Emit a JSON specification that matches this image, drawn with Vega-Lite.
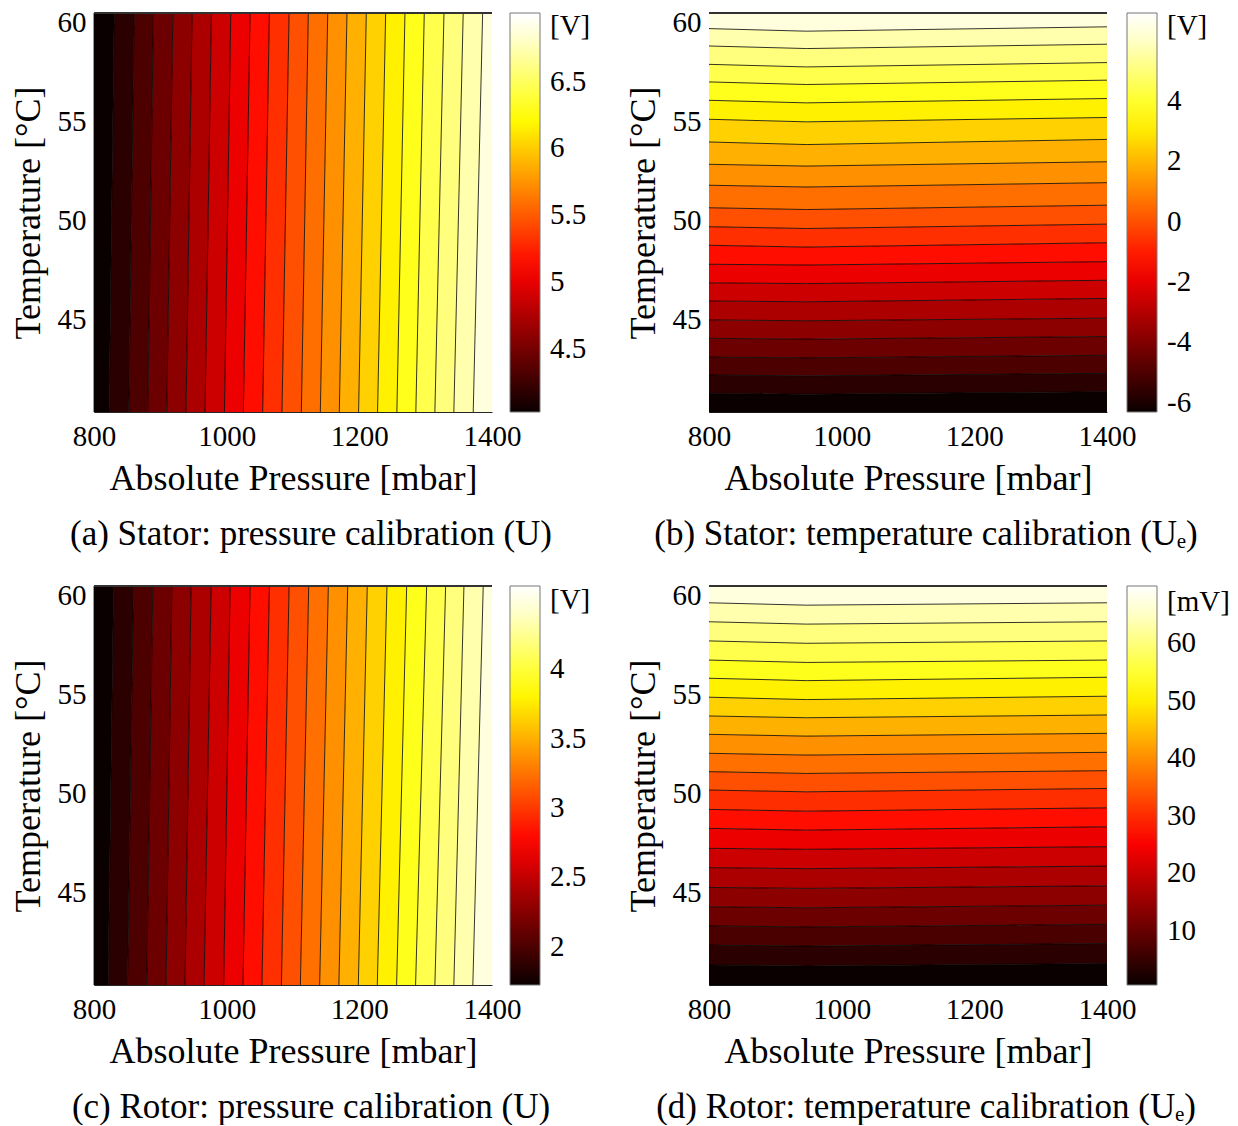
{
  "$schema": "https://vega.github.io/schema/vega-lite/v6.json",
  "padding": {"left": 10, "top": 8, "right": 0, "bottom": 0},
  "background": "white",
  "columns": 2,
  "spacing": {"row": 29, "column": 34},
  "resolve": {
    "scale": {"x": "independent", "y": "independent", "color": "independent"},
    "axis": {"x": "independent", "y": "independent"},
    "legend": {"color": "independent"}
  },
  "datasets": {
    "A": [
      {"k":0,"t":40.3,"p0":800,"p1":822.7,"v":4.026},{"k":0,"t":60.5,"p0":800,"p1":830.4,"v":4.026},
      {"k":1,"t":40.3,"p0":822.7,"p1":852.4,"v":4.168},{"k":1,"t":60.5,"p0":830.4,"p1":860.6,"v":4.168},
      {"k":2,"t":40.3,"p0":852.4,"p1":881.0,"v":4.311},{"k":2,"t":60.5,"p0":860.6,"p1":889.6,"v":4.311},
      {"k":3,"t":40.3,"p0":881.0,"p1":909.7,"v":4.453},{"k":3,"t":60.5,"p0":889.6,"p1":918.9,"v":4.453},
      {"k":4,"t":40.3,"p0":909.7,"p1":938.7,"v":4.595},{"k":4,"t":60.5,"p0":918.9,"p1":947.9,"v":4.595},
      {"k":5,"t":40.3,"p0":938.7,"p1":967.4,"v":4.738},{"k":5,"t":60.5,"p0":947.9,"p1":977.0,"v":4.738},
      {"k":6,"t":40.3,"p0":967.4,"p1":996.6,"v":4.880},{"k":6,"t":60.5,"p0":977.0,"p1":1006.2,"v":4.880},
      {"k":7,"t":40.3,"p0":996.6,"p1":1025.2,"v":5.022},{"k":7,"t":60.5,"p0":1006.2,"p1":1035.3,"v":5.022},
      {"k":8,"t":40.3,"p0":1025.2,"p1":1054.3,"v":5.165},{"k":8,"t":60.5,"p0":1035.3,"p1":1064.4,"v":5.165},
      {"k":9,"t":40.3,"p0":1054.3,"p1":1083.4,"v":5.307},{"k":9,"t":60.5,"p0":1064.4,"p1":1094.1,"v":5.307},
      {"k":10,"t":40.3,"p0":1083.4,"p1":1112.6,"v":5.449},{"k":10,"t":60.5,"p0":1094.1,"p1":1123.1,"v":5.449},
      {"k":11,"t":40.3,"p0":1112.6,"p1":1141.2,"v":5.592},{"k":11,"t":60.5,"p0":1123.1,"p1":1152.4,"v":5.592},
      {"k":12,"t":40.3,"p0":1141.2,"p1":1169.8,"v":5.734},{"k":12,"t":60.5,"p0":1152.4,"p1":1181.4,"v":5.734},
      {"k":13,"t":40.3,"p0":1169.8,"p1":1198.9,"v":5.876},{"k":13,"t":60.5,"p0":1181.4,"p1":1210.5,"v":5.876},
      {"k":14,"t":40.3,"p0":1198.9,"p1":1227.5,"v":6.019},{"k":14,"t":60.5,"p0":1210.5,"p1":1239.7,"v":6.019},
      {"k":15,"t":40.3,"p0":1227.5,"p1":1256.6,"v":6.161},{"k":15,"t":60.5,"p0":1239.7,"p1":1268.8,"v":6.161},
      {"k":16,"t":40.3,"p0":1256.6,"p1":1285.2,"v":6.303},{"k":16,"t":60.5,"p0":1268.8,"p1":1297.9,"v":6.303},
      {"k":17,"t":40.3,"p0":1285.2,"p1":1313.9,"v":6.446},{"k":17,"t":60.5,"p0":1297.9,"p1":1327.6,"v":6.446},
      {"k":18,"t":40.3,"p0":1313.9,"p1":1342.5,"v":6.588},{"k":18,"t":60.5,"p0":1327.6,"p1":1356.6,"v":6.588},
      {"k":19,"t":40.3,"p0":1342.5,"p1":1371.7,"v":6.730},{"k":19,"t":60.5,"p0":1356.6,"p1":1385.9,"v":6.730},
      {"k":20,"t":40.3,"p0":1371.7,"p1":1400,"v":6.873},{"k":20,"t":60.5,"p0":1385.9,"p1":1400,"v":6.873}
    ],
    "C": [
      {"k":0,"t":40.3,"p0":800,"p1":821.2,"v":1.724},{"k":0,"t":60.5,"p0":800,"p1":829.4,"v":1.724},
      {"k":1,"t":40.3,"p0":821.2,"p1":850.5,"v":1.861},{"k":1,"t":60.5,"p0":829.4,"p1":859.5,"v":1.861},
      {"k":2,"t":40.3,"p0":850.5,"p1":879.5,"v":1.998},{"k":2,"t":60.5,"p0":859.5,"p1":888.7,"v":1.998},
      {"k":3,"t":40.3,"p0":879.5,"p1":908.6,"v":2.135},{"k":3,"t":60.5,"p0":888.7,"p1":917.4,"v":2.135},
      {"k":4,"t":40.3,"p0":908.6,"p1":937.2,"v":2.272},{"k":4,"t":60.5,"p0":917.4,"p1":946.4,"v":2.272},
      {"k":5,"t":40.3,"p0":937.2,"p1":965.9,"v":2.409},{"k":5,"t":60.5,"p0":946.4,"p1":976.6,"v":2.409},
      {"k":6,"t":40.3,"p0":965.9,"p1":995.5,"v":2.546},{"k":6,"t":60.5,"p0":976.6,"p1":1005.2,"v":2.546},
      {"k":7,"t":40.3,"p0":995.5,"p1":1024.6,"v":2.683},{"k":7,"t":60.5,"p0":1005.2,"p1":1035.3,"v":2.683},
      {"k":8,"t":40.3,"p0":1024.6,"p1":1053.2,"v":2.820},{"k":8,"t":60.5,"p0":1035.3,"p1":1064.4,"v":2.820},
      {"k":9,"t":40.3,"p0":1053.2,"p1":1082.5,"v":2.957},{"k":9,"t":60.5,"p0":1064.4,"p1":1094.1,"v":2.957},
      {"k":10,"t":40.3,"p0":1082.5,"p1":1111.1,"v":3.094},{"k":10,"t":60.5,"p0":1094.1,"p1":1123.7,"v":3.094},
      {"k":11,"t":40.3,"p0":1111.1,"p1":1140.2,"v":3.231},{"k":11,"t":60.5,"p0":1123.7,"p1":1153.3,"v":3.231},
      {"k":12,"t":40.3,"p0":1140.2,"p1":1169.2,"v":3.368},{"k":12,"t":60.5,"p0":1153.3,"p1":1182.5,"v":3.368},
      {"k":13,"t":40.3,"p0":1169.2,"p1":1198.5,"v":3.505},{"k":13,"t":60.5,"p0":1182.5,"p1":1212.0,"v":3.505},
      {"k":14,"t":40.3,"p0":1198.5,"p1":1227.1,"v":3.642},{"k":14,"t":60.5,"p0":1212.0,"p1":1241.7,"v":3.642},
      {"k":15,"t":40.3,"p0":1227.1,"p1":1256.2,"v":3.779},{"k":15,"t":60.5,"p0":1241.7,"p1":1271.4,"v":3.779},
      {"k":16,"t":40.3,"p0":1256.2,"p1":1284.8,"v":3.916},{"k":16,"t":60.5,"p0":1271.4,"p1":1301.5,"v":3.916},
      {"k":17,"t":40.3,"p0":1284.8,"p1":1313.9,"v":4.053},{"k":17,"t":60.5,"p0":1301.5,"p1":1330.1,"v":4.053},
      {"k":18,"t":40.3,"p0":1313.9,"p1":1342.5,"v":4.190},{"k":18,"t":60.5,"p0":1330.1,"p1":1357.7,"v":4.190},
      {"k":19,"t":40.3,"p0":1342.5,"p1":1371.1,"v":4.327},{"k":19,"t":60.5,"p0":1357.7,"p1":1386.8,"v":4.327},
      {"k":20,"t":40.3,"p0":1371.1,"p1":1400,"v":4.464},{"k":20,"t":60.5,"p0":1386.8,"p1":1400,"v":4.464}
    ],
    "B": [
      {"k":0,"p":800,"t0":40.3,"t1":41.24,"v":-6.31},{"k":0,"p":947,"t0":40.3,"t1":41.20,"v":-6.31},{"k":0,"p":1400,"t0":40.3,"t1":41.33,"v":-6.31},
      {"k":1,"p":800,"t0":41.24,"t1":42.17,"v":-5.68},{"k":1,"p":947,"t0":41.20,"t1":42.13,"v":-5.68},{"k":1,"p":1400,"t0":41.33,"t1":42.26,"v":-5.68},
      {"k":2,"p":800,"t0":42.17,"t1":43.08,"v":-5.05},{"k":2,"p":947,"t0":42.13,"t1":43.04,"v":-5.05},{"k":2,"p":1400,"t0":42.26,"t1":43.17,"v":-5.05},
      {"k":3,"p":800,"t0":43.08,"t1":44.03,"v":-4.42},{"k":3,"p":947,"t0":43.04,"t1":43.99,"v":-4.42},{"k":3,"p":1400,"t0":43.17,"t1":44.12,"v":-4.42},
      {"k":4,"p":800,"t0":44.03,"t1":44.96,"v":-3.79},{"k":4,"p":947,"t0":43.99,"t1":44.92,"v":-3.79},{"k":4,"p":1400,"t0":44.12,"t1":45.05,"v":-3.79},
      {"k":5,"p":800,"t0":44.96,"t1":45.92,"v":-3.16},{"k":5,"p":947,"t0":44.92,"t1":45.88,"v":-3.16},{"k":5,"p":1400,"t0":45.05,"t1":46.05,"v":-3.16},
      {"k":6,"p":800,"t0":45.92,"t1":46.84,"v":-2.53},{"k":6,"p":947,"t0":45.88,"t1":46.80,"v":-2.53},{"k":6,"p":1400,"t0":46.05,"t1":46.97,"v":-2.53},
      {"k":7,"p":800,"t0":46.84,"t1":47.78,"v":-1.90},{"k":7,"p":947,"t0":46.80,"t1":47.74,"v":-1.90},{"k":7,"p":1400,"t0":46.97,"t1":47.91,"v":-1.90},
      {"k":8,"p":800,"t0":47.78,"t1":48.74,"v":-1.27},{"k":8,"p":947,"t0":47.74,"t1":48.65,"v":-1.27},{"k":8,"p":1400,"t0":47.91,"t1":48.87,"v":-1.27},
      {"k":9,"p":800,"t0":48.74,"t1":49.68,"v":-0.64},{"k":9,"p":947,"t0":48.65,"t1":49.59,"v":-0.64},{"k":9,"p":1400,"t0":48.87,"t1":49.81,"v":-0.64},
      {"k":10,"p":800,"t0":49.68,"t1":50.64,"v":-0.01},{"k":10,"p":947,"t0":49.59,"t1":50.55,"v":-0.01},{"k":10,"p":1400,"t0":49.81,"t1":50.77,"v":-0.01},
      {"k":11,"p":800,"t0":50.64,"t1":51.78,"v":0.62},{"k":11,"p":947,"t0":50.55,"t1":51.69,"v":0.62},{"k":11,"p":1400,"t0":50.77,"t1":51.91,"v":0.62},
      {"k":12,"p":800,"t0":51.78,"t1":52.84,"v":1.25},{"k":12,"p":947,"t0":51.69,"t1":52.75,"v":1.25},{"k":12,"p":1400,"t0":51.91,"t1":52.97,"v":1.25},
      {"k":13,"p":800,"t0":52.84,"t1":53.97,"v":1.88},{"k":13,"p":947,"t0":52.75,"t1":53.84,"v":1.88},{"k":13,"p":1400,"t0":52.97,"t1":54.10,"v":1.88},
      {"k":14,"p":800,"t0":53.97,"t1":55.12,"v":2.51},{"k":14,"p":947,"t0":53.84,"t1":54.99,"v":2.51},{"k":14,"p":1400,"t0":54.10,"t1":55.21,"v":2.51},
      {"k":15,"p":800,"t0":55.12,"t1":56.08,"v":3.14},{"k":15,"p":947,"t0":54.99,"t1":55.95,"v":3.14},{"k":15,"p":1400,"t0":55.21,"t1":56.17,"v":3.14},
      {"k":16,"p":800,"t0":56.08,"t1":57.01,"v":3.77},{"k":16,"p":947,"t0":55.95,"t1":56.88,"v":3.77},{"k":16,"p":1400,"t0":56.17,"t1":57.10,"v":3.77},
      {"k":17,"p":800,"t0":57.01,"t1":57.90,"v":4.40},{"k":17,"p":947,"t0":56.88,"t1":57.77,"v":4.40},{"k":17,"p":1400,"t0":57.10,"t1":57.99,"v":4.40},
      {"k":18,"p":800,"t0":57.90,"t1":58.83,"v":5.03},{"k":18,"p":947,"t0":57.77,"t1":58.70,"v":5.03},{"k":18,"p":1400,"t0":57.99,"t1":58.92,"v":5.03},
      {"k":19,"p":800,"t0":58.83,"t1":59.71,"v":5.66},{"k":19,"p":947,"t0":58.70,"t1":59.58,"v":5.66},{"k":19,"p":1400,"t0":58.92,"t1":59.80,"v":5.66},
      {"k":20,"p":800,"t0":59.71,"t1":60.5,"v":6.29},{"k":20,"p":947,"t0":59.58,"t1":60.5,"v":6.29},{"k":20,"p":1400,"t0":59.80,"t1":60.5,"v":6.29}
    ],
    "D": [
      {"k":0,"p":800,"t0":40.3,"t1":41.31,"v":0.6},{"k":0,"p":947,"t0":40.3,"t1":41.26,"v":0.6},{"k":0,"p":1400,"t0":40.3,"t1":41.39,"v":0.6},
      {"k":1,"p":800,"t0":41.31,"t1":42.32,"v":3.9},{"k":1,"p":947,"t0":41.26,"t1":42.27,"v":3.9},{"k":1,"p":1400,"t0":41.39,"t1":42.40,"v":3.9},
      {"k":2,"p":800,"t0":42.32,"t1":43.29,"v":7.2},{"k":2,"p":947,"t0":42.27,"t1":43.24,"v":7.2},{"k":2,"p":1400,"t0":42.40,"t1":43.37,"v":7.2},
      {"k":3,"p":800,"t0":43.29,"t1":44.26,"v":10.5},{"k":3,"p":947,"t0":43.24,"t1":44.21,"v":10.5},{"k":3,"p":1400,"t0":43.37,"t1":44.34,"v":10.5},
      {"k":4,"p":800,"t0":44.26,"t1":45.24,"v":13.8},{"k":4,"p":947,"t0":44.21,"t1":45.19,"v":13.8},{"k":4,"p":1400,"t0":44.34,"t1":45.32,"v":13.8},
      {"k":5,"p":800,"t0":45.24,"t1":46.24,"v":17.1},{"k":5,"p":947,"t0":45.19,"t1":46.19,"v":17.1},{"k":5,"p":1400,"t0":45.32,"t1":46.32,"v":17.1},
      {"k":6,"p":800,"t0":46.24,"t1":47.22,"v":20.4},{"k":6,"p":947,"t0":46.19,"t1":47.17,"v":20.4},{"k":6,"p":1400,"t0":46.32,"t1":47.30,"v":20.4},
      {"k":7,"p":800,"t0":47.22,"t1":48.23,"v":23.7},{"k":7,"p":947,"t0":47.17,"t1":48.14,"v":23.7},{"k":7,"p":1400,"t0":47.30,"t1":48.31,"v":23.7},
      {"k":8,"p":800,"t0":48.23,"t1":49.19,"v":27.0},{"k":8,"p":947,"t0":48.14,"t1":49.10,"v":27.0},{"k":8,"p":1400,"t0":48.31,"t1":49.27,"v":27.0},
      {"k":9,"p":800,"t0":49.19,"t1":50.17,"v":30.3},{"k":9,"p":947,"t0":49.10,"t1":50.08,"v":30.3},{"k":9,"p":1400,"t0":49.27,"t1":50.25,"v":30.3},
      {"k":10,"p":800,"t0":50.17,"t1":51.10,"v":33.6},{"k":10,"p":947,"t0":50.08,"t1":51.01,"v":33.6},{"k":10,"p":1400,"t0":50.25,"t1":51.15,"v":33.6},
      {"k":11,"p":800,"t0":51.10,"t1":52.03,"v":37.0},{"k":11,"p":947,"t0":51.01,"t1":51.94,"v":37.0},{"k":11,"p":1400,"t0":51.15,"t1":52.08,"v":37.0},
      {"k":12,"p":800,"t0":52.03,"t1":52.99,"v":40.3},{"k":12,"p":947,"t0":51.94,"t1":52.90,"v":40.3},{"k":12,"p":1400,"t0":52.08,"t1":53.04,"v":40.3},
      {"k":13,"p":800,"t0":52.99,"t1":53.92,"v":43.6},{"k":13,"p":947,"t0":52.90,"t1":53.83,"v":43.6},{"k":13,"p":1400,"t0":53.04,"t1":53.97,"v":43.6},
      {"k":14,"p":800,"t0":53.92,"t1":54.87,"v":46.9},{"k":14,"p":947,"t0":53.83,"t1":54.75,"v":46.9},{"k":14,"p":1400,"t0":53.97,"t1":54.92,"v":46.9},
      {"k":15,"p":800,"t0":54.87,"t1":55.83,"v":50.2},{"k":15,"p":947,"t0":54.75,"t1":55.71,"v":50.2},{"k":15,"p":1400,"t0":54.92,"t1":55.88,"v":50.2},
      {"k":16,"p":800,"t0":55.83,"t1":56.75,"v":53.5},{"k":16,"p":947,"t0":55.71,"t1":56.63,"v":53.5},{"k":16,"p":1400,"t0":55.88,"t1":56.75,"v":53.5},
      {"k":17,"p":800,"t0":56.75,"t1":57.72,"v":56.8},{"k":17,"p":947,"t0":56.63,"t1":57.60,"v":56.8},{"k":17,"p":1400,"t0":56.75,"t1":57.72,"v":56.8},
      {"k":18,"p":800,"t0":57.72,"t1":58.69,"v":60.1},{"k":18,"p":947,"t0":57.60,"t1":58.57,"v":60.1},{"k":18,"p":1400,"t0":57.72,"t1":58.69,"v":60.1},
      {"k":19,"p":800,"t0":58.69,"t1":59.65,"v":63.4},{"k":19,"p":947,"t0":58.57,"t1":59.53,"v":63.4},{"k":19,"p":1400,"t0":58.69,"t1":59.65,"v":63.4},
      {"k":20,"p":800,"t0":59.65,"t1":60.5,"v":66.7},{"k":20,"p":947,"t0":59.53,"t1":60.5,"v":66.7},{"k":20,"p":1400,"t0":59.65,"t1":60.5,"v":66.7}
    ]
  },
  "concat": [
    {
      "width": 398, "height": 399,
      "title": {"text": "(a) Stator: pressure calibration (U)"},
      "data": {"name": "A"},
      "layer": [
        {
          "mark": {"type": "area", "orient": "horizontal"},
          "encoding": {
            "y": {"field": "t", "type": "quantitative", "title": "Temperature [°C]", "scale": {"domain": [40.3, 60.5], "nice": false, "zero": false}, "axis": {"values": [45, 50, 55, 60]}},
            "x": {"field": "p0", "type": "quantitative", "title": "Absolute Pressure [mbar]", "scale": {"domain": [800, 1400], "nice": false, "zero": false}, "axis": {"values": [800, 1000, 1200, 1400], "format": "d"}},
            "x2": {"field": "p1"},
            "detail": {"field": "k", "type": "nominal"},
            "color": {"field": "v", "type": "quantitative",
              "scale": {"domain": [4.026, 5.102, 6.223, 6.970, 7.015], "range": ["#0b0000", "#ff0000", "#ffff00", "#ffffff", "#ffffff"], "nice": false, "zero": false, "interpolate": "rgb"},
              "legend": {"values": [4.5, 5, 5.5, 6, 6.5, 6.92], "labelExpr": "datum.value > 6.8 ? '[V]' : '' + datum.value"}}
          }
        },
        {
          "mark": {"type": "line", "color": "#000000", "strokeWidth": 0.8},
          "encoding": {
            "x": {"field": "p0", "type": "quantitative", "title": "Absolute Pressure [mbar]"},
            "y": {"field": "t", "type": "quantitative", "title": "Temperature [°C]"},
            "detail": {"field": "k", "type": "nominal"},
            "order": {"field": "t", "type": "quantitative"}
          }
        },
        {
          "mark": {"type": "rule", "color": "#333333", "strokeWidth": 1},
          "encoding": {"y": {"datum": 60.5, "type": "quantitative", "title": "Temperature [°C]"}}
        }
      ]
    },
    {
      "width": 398, "height": 399,
      "title": {"text": "(b) Stator: temperature calibration (Uₑ)"},
      "data": {"name": "B"},
      "layer": [
        {
          "mark": {"type": "area"},
          "encoding": {
            "x": {"field": "p", "type": "quantitative", "title": "Absolute Pressure [mbar]", "scale": {"domain": [800, 1400], "nice": false, "zero": false}, "axis": {"values": [800, 1000, 1200, 1400], "format": "d"}},
            "y": {"field": "t0", "type": "quantitative", "title": "Temperature [°C]", "scale": {"domain": [40.3, 60.5], "nice": false, "zero": false}, "axis": {"values": [45, 50, 55, 60]}},
            "y2": {"field": "t1"},
            "detail": {"field": "k", "type": "nominal"},
            "color": {"field": "v", "type": "quantitative",
              "scale": {"domain": [-6.31, -1.547, 3.414, 6.722, 6.92], "range": ["#0b0000", "#ff0000", "#ffff00", "#ffffff", "#ffffff"], "nice": false, "zero": false, "interpolate": "rgb"},
              "legend": {"values": [-6, -4, -2, 0, 2, 4, 6.5], "labelExpr": "datum.value > 6 ? '[V]' : '' + datum.value"}}
          }
        },
        {
          "mark": {"type": "line", "color": "#000000", "strokeWidth": 0.8},
          "encoding": {
            "x": {"field": "p", "type": "quantitative", "title": "Absolute Pressure [mbar]"},
            "y": {"field": "t0", "type": "quantitative", "title": "Temperature [°C]"},
            "detail": {"field": "k", "type": "nominal"}
          }
        },
        {
          "mark": {"type": "rule", "color": "#333333", "strokeWidth": 1},
          "encoding": {"y": {"datum": 60.5, "type": "quantitative", "title": "Temperature [°C]"}}
        }
      ]
    },
    {
      "width": 398, "height": 399,
      "title": {"text": "(c) Rotor: pressure calibration (U)"},
      "data": {"name": "C"},
      "layer": [
        {
          "mark": {"type": "area", "orient": "horizontal"},
          "encoding": {
            "y": {"field": "t", "type": "quantitative", "title": "Temperature [°C]", "scale": {"domain": [40.3, 60.5], "nice": false, "zero": false}, "axis": {"values": [45, 50, 55, 60]}},
            "x": {"field": "p0", "type": "quantitative", "title": "Absolute Pressure [mbar]", "scale": {"domain": [800, 1400], "nice": false, "zero": false}, "axis": {"values": [800, 1000, 1200, 1400], "format": "d"}},
            "x2": {"field": "p1"},
            "detail": {"field": "k", "type": "nominal"},
            "color": {"field": "v", "type": "quantitative",
              "scale": {"domain": [1.724, 2.759, 3.838, 4.557, 4.60], "range": ["#0b0000", "#ff0000", "#ffff00", "#ffffff", "#ffffff"], "nice": false, "zero": false, "interpolate": "rgb"},
              "legend": {"values": [2, 2.5, 3, 3.5, 4, 4.5], "labelExpr": "datum.value > 4.4 ? '[V]' : '' + datum.value"}}
          }
        },
        {
          "mark": {"type": "line", "color": "#000000", "strokeWidth": 0.8},
          "encoding": {
            "x": {"field": "p0", "type": "quantitative", "title": "Absolute Pressure [mbar]"},
            "y": {"field": "t", "type": "quantitative", "title": "Temperature [°C]"},
            "detail": {"field": "k", "type": "nominal"},
            "order": {"field": "t", "type": "quantitative"}
          }
        },
        {
          "mark": {"type": "rule", "color": "#333333", "strokeWidth": 1},
          "encoding": {"y": {"datum": 60.5, "type": "quantitative", "title": "Temperature [°C]"}}
        }
      ]
    },
    {
      "width": 398, "height": 399,
      "title": {"text": "(d) Rotor: temperature calibration (Uₑ)"},
      "data": {"name": "D"},
      "layer": [
        {
          "mark": {"type": "area"},
          "encoding": {
            "x": {"field": "p", "type": "quantitative", "title": "Absolute Pressure [mbar]", "scale": {"domain": [800, 1400], "nice": false, "zero": false}, "axis": {"values": [800, 1000, 1200, 1400], "format": "d"}},
            "y": {"field": "t0", "type": "quantitative", "title": "Temperature [°C]", "scale": {"domain": [40.3, 60.5], "nice": false, "zero": false}, "axis": {"values": [45, 50, 55, 60]}},
            "y2": {"field": "t1"},
            "detail": {"field": "k", "type": "nominal"},
            "color": {"field": "v", "type": "quantitative",
              "scale": {"domain": [0.6, 25.58, 51.61, 68.96, 70.0], "range": ["#0b0000", "#ff0000", "#ffff00", "#ffffff", "#ffffff"], "nice": false, "zero": false, "interpolate": "rgb"},
              "legend": {"values": [10, 20, 30, 40, 50, 60, 67.3], "labelExpr": "datum.value > 65 ? '[mV]' : '' + datum.value"}}
          }
        },
        {
          "mark": {"type": "line", "color": "#000000", "strokeWidth": 0.8},
          "encoding": {
            "x": {"field": "p", "type": "quantitative", "title": "Absolute Pressure [mbar]"},
            "y": {"field": "t0", "type": "quantitative", "title": "Temperature [°C]"},
            "detail": {"field": "k", "type": "nominal"}
          }
        },
        {
          "mark": {"type": "rule", "color": "#333333", "strokeWidth": 1},
          "encoding": {"y": {"datum": 60.5, "type": "quantitative", "title": "Temperature [°C]"}}
        }
      ]
    }
  ],
  "config": {
    "font": "Liberation Serif",
    "view": {"stroke": null},
    "axis": {
      "labelFont": "Liberation Serif", "titleFont": "Liberation Serif",
      "labelFontSize": 29, "titleFontSize": 36, "titleFontWeight": "normal",
      "labelColor": "black", "titleColor": "black",
      "domainColor": "#262626", "domainWidth": 1,
      "ticks": false, "tickSize": 0, "grid": false, "labelFlush": false
    },
    "axisX": {"labelPadding": 10, "titlePadding": 10},
    "axisY": {"labelPadding": 8, "titlePadding": 10},
    "legend": {
      "orient": "right", "direction": "vertical",
      "gradientLength": 399, "gradientThickness": 30,
      "gradientStrokeColor": "#777777", "gradientStrokeWidth": 1,
      "gradientLabelOffset": 10,
      "labelFont": "Liberation Serif", "labelFontSize": 29, "labelColor": "black",
      "labelOffset": 10, "offset": 18, "padding": 0, "title": null,
      "labelOverlap": false
    },
    "title": {
      "orient": "bottom", "anchor": "middle", "frame": "group",
      "font": "Liberation Serif", "fontSize": 35, "fontWeight": "normal", "color": "black",
      "dx": 18, "offset": 21
    }
  }
}
